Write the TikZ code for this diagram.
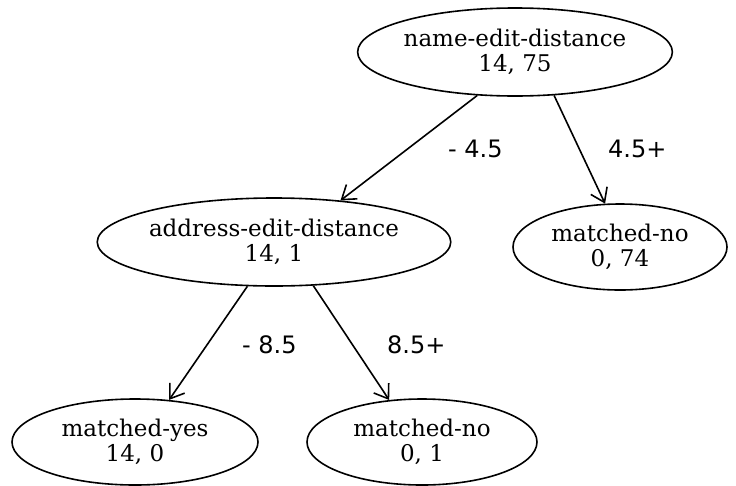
\documentclass[tikz,border=0pt]{standalone}
\usepackage{fontspec}
\setmainfont{DejaVu Serif}
\newfontfamily\cutfont{DejaVu Sans}
\usetikzlibrary{shapes.geometric,arrows.meta}
\tikzset{
  attr/.style={ellipse,draw,line width=1.6pt,inner sep=0pt,align=center,
    font=\fontsize{23}{25}\selectfont},
  branch/.style={line width=1.6pt,
    -{Straight Barb[length=13pt,width=18pt,line width=1.6pt]}},
  cut/.style={anchor=base west,inner sep=0pt,font=\cutfont\fontsize{24}{26}\selectfont}
}

\begin{document}
\begin{tikzpicture}[x=1pt,y=-1pt]
\useasboundingbox (0,0) rectangle (736,485);

%tree nodes
\node[attr,minimum width=304pt,minimum height=88pt] (name) at (515,52) {name-edit-distance\\14, 75};
\node[attr,minimum width=352pt,minimum height=88pt] (addr) at (274,242) {address-edit-distance\\14, 1};
\node[attr,minimum width=214pt,minimum height=86pt] (nameno) at (620,247) {matched-no\\0, 74};
\node[attr,minimum width=246pt,minimum height=86pt] (yes) at (135,442) {matched-yes\\14, 0};
\node[attr,minimum width=230pt,minimum height=86pt] (addrno) at (422,442) {matched-no\\0, 1};

%branches
\draw[branch] (name.-131.5) -- (addr.32.4);
\draw[branch] (name.-48.5) -- (nameno.109.7);
\draw[branch] (addr.-121.5) -- (yes.51.8);
\draw[branch] (addr.-48.4) -- (addrno.128);

%split values
\node[cut] (c1) at (448,157) {- 4.5};
\node[cut] (c2) at (608,157) {4.5+};
\node[cut] (c3) at (242,353) {- 8.5};
\node[cut] (c4) at (387,353) {8.5+};
\end{tikzpicture}
\end{document}
